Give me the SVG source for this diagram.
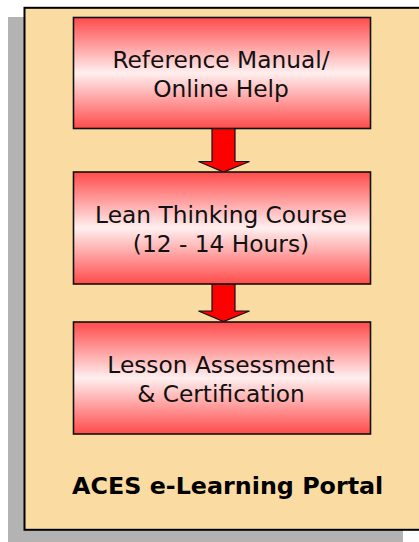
<svg xmlns="http://www.w3.org/2000/svg" width="419" height="542" viewBox="0 0 419 542">
<style>
.box{stroke:#111;stroke-width:1.6;fill:url(#redgrad)}
.lbl{font-family:"DejaVu Sans","Verdana",sans-serif;font-size:23.3px;fill:#111;text-anchor:middle}
.title{font-family:"DejaVu Sans","Verdana",sans-serif;font-size:23.8px;font-weight:bold;fill:#000;text-anchor:middle}
.arrow{fill:#FF0000;stroke:#111;stroke-width:1.2;stroke-linejoin:miter}
</style>
<defs>
<linearGradient id="redgrad" x1="0" y1="0" x2="0" y2="1">
<stop offset="0" stop-color="#FF4B4B"/>
<stop offset="0.5" stop-color="#FFEFEF"/>
<stop offset="1" stop-color="#FF4B4B"/>
</linearGradient>
</defs>
<rect x="0" y="0" width="419" height="542" fill="#FFFFFF"/>
<g id="portal">
<rect x="8" y="17" width="395" height="530" fill="#B3B3B3"/>
<rect x="24.5" y="7.8" width="410" height="522" fill="#FADBA1" stroke="#000" stroke-width="2"/>
<text class="title" x="227.7" y="493.5">ACES e-Learning Portal</text>
</g>
<g id="connectors">
<path class="arrow" d="M212,128.5 L235,128.5 L235,161.5 L249.5,161.5 L223.5,172 L198.5,161.5 L212,161.5 Z"/>
<path class="arrow" d="M212,284.5 L235,284.5 L235,311 L249.5,311 L223.5,321.5 L198.5,311 L212,311 Z"/>
</g>
<g id="node1">
<rect class="box" x="73.5" y="17.5" width="297" height="111"/>
<text class="lbl" x="221" y="68.3">Reference Manual/</text>
<text class="lbl" x="221" y="96.7">Online Help</text>
</g>
<g id="node2">
<rect class="box" x="73.5" y="172" width="297" height="112"/>
<text class="lbl" x="221" y="223.3">Lean Thinking Course</text>
<text class="lbl" x="221" y="251.7">(12 - 14 Hours)</text>
</g>
<g id="node3">
<rect class="box" x="73.5" y="322" width="297" height="112"/>
<text class="lbl" x="221" y="373.3">Lesson Assessment</text>
<text class="lbl" x="221" y="401.7">&amp; Certification</text>
</g>
</svg>
